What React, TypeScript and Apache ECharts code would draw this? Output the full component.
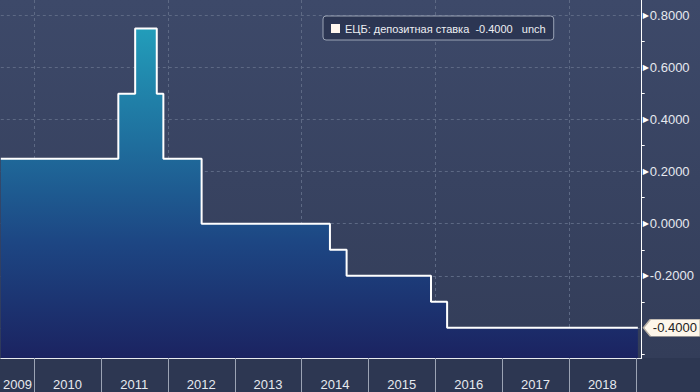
import React, { useEffect, useRef } from "react";
import * as echarts from "echarts";

const seriesName = "ЕЦБ: депозитная ставка";
const changeDates = [
  "2009-07-03", "2011-04-06", "2011-07-07", "2011-11-02", "2011-12-08",
  "2012-07-04", "2014-06-05", "2014-09-04", "2015-12-09", "2016-03-06", "2019-01-12",
];
const rates = [0.25, 0.5, 0.75, 0.5, 0.25, 0, -0.1, -0.2, -0.3, -0.4, -0.4];
const yearBoundaries = [2010, 2011, 2012, 2013, 2014, 2015, 2016, 2017, 2018, 2019];
const yearLabels = [2009, 2010, 2011, 2012, 2013, 2014, 2015, 2016, 2017, 2018];
const gridYears = [2010, 2012, 2014, 2016, 2018];
const yTicks = [-0.4, -0.2, 0, 0.2, 0.4, 0.6, 0.8];
const axisStart = "2009-07-03";
const axisEnd = "2019-02-02";
const yMin = -0.516;
const yMax = 0.86;
const changeText = "unch";

const ts = (s: string) => {
  const [y, m, d] = s.split("-").map(Number);
  return Date.UTC(y, m - 1, d);
};

export default function App() {
  const ref = useRef<HTMLDivElement>(null);
  useEffect(() => {
    if (!ref.current) return;
    const chart = echarts.init(ref.current, null, { renderer: "svg" });
    const xMin = ts(axisStart);
    const xMax = ts(axisEnd);
    const data = changeDates.map((d, i) => [ts(d), rates[i]]);
    const last = rates[rates.length - 1];
    const labelPositions = yearLabels.map((y) =>
      y === yearLabels[0] ? (xMin + Date.UTC(y + 1, 0, 1)) / 2 : Date.UTC(y, 6, 2)
    );
    const font = "Liberation Sans";
    chart.setOption({
      animation: false,
      backgroundColor: "transparent",
      textStyle: { fontFamily: font },
      grid: { left: 0, right: 58.3, top: 0, bottom: 34, containLabel: false },
      legend: {
        left: 323,
        top: 16,
        padding: [7, 8, 6, 8],
        backgroundColor: "#2c3653",
        borderColor: "#9aa3b5",
        borderWidth: 1,
        borderRadius: 3,
        icon: "rect",
        itemWidth: 9,
        itemHeight: 9,
        itemStyle: { color: "#fff6ee" },
        textStyle: { color: "#eceef2", fontSize: 11, fontFamily: font },
        formatter: (name: string) => `${name}  ${last.toFixed(4)}   ${changeText}`,
        data: [seriesName],
      },
      xAxis: [
        {
          type: "value",
          min: xMin,
          max: xMax,
          position: "bottom",
          axisLine: { show: true, onZero: false, lineStyle: { color: "#e8eaee", width: 1 } },
          axisTick: {
            show: true,
            customValues: yearBoundaries.map((y) => Date.UTC(y, 0, 1)),
            length: 34,
            lineStyle: { color: "#9ba3b4", width: 1 },
          },
          axisLabel: {
            show: true,
            customValues: labelPositions,
            formatter: (v: number) => String(new Date(v).getUTCFullYear()),
            color: "#e6e9ef",
            fontSize: 13,
            fontFamily: font,
            margin: 20,
            hideOverlap: false,
          },
          splitLine: { show: false },
        },
        {
          type: "value",
          min: xMin,
          max: xMax,
          position: "bottom",
          axisLine: { show: false, onZero: false },
          axisLabel: { show: false },
          axisTick: {
            show: false,
            customValues: gridYears.map((y) => Date.UTC(y, 0, 1)),
          },
          splitLine: {
            show: true,
            lineStyle: { color: "#5d6984", type: [3, 3], width: 1 },
          },
        },
      ],
      yAxis: {
        type: "value",
        position: "right",
        min: yMin,
        max: yMax,
        splitNumber: 7,
        axisLine: { show: true, lineStyle: { color: "#ffffff", width: 1 } },
        axisTick: { show: false, customValues: yTicks },
        minorTick: { show: true, splitNumber: 2, length: 3, lineStyle: { color: "#ffffff" } },
        axisLabel: {
          customValues: yTicks,
          margin: 1,
          formatter: (v: number) =>
            Math.abs(v - last) < 1e-9 ? "" : `{t|▶}{v|${v.toFixed(4)}}`,
          rich: {
            t: { fontSize: 8, color: "#ffffff", padding: [0, 1, 0, 0], fontFamily: "DejaVu Sans" },
            v: { fontSize: 13, color: "#e6e9ef", fontFamily: font },
          },
        },
        splitLine: {
          show: true,
          lineStyle: { color: "#5d6984", type: [3, 3], width: 1 },
        },
      },
      series: [
        {
          name: seriesName,
          type: "line",
          step: "end",
          data,
          symbol: "none",
          clip: false,
          itemStyle: { color: "#ffffff" },
          lineStyle: { color: "#ffffff", width: 2 },
          areaStyle: {
            origin: "start",
            opacity: 1,
            color: new echarts.graphic.LinearGradient(0, 0, 0, 1, [
              { offset: 0, color: "#229dba" },
              { offset: 0.35, color: "#1f6e9d" },
              { offset: 0.65, color: "#1d4683" },
              { offset: 1, color: "#1b2361" },
            ]),
          },
          markPoint: {
            silent: true,
            symbol: "path://M0,8.5 L7,0 L57,0 L57,17 L7,17 Z",
            symbolSize: [57, 17],
            symbolKeepAspect: false,
            symbolOffset: [34, 0],
            itemStyle: { color: "#fdf6ea", borderColor: "#b8b0a4", borderWidth: 1 },
            label: {
              show: true,
              position: "inside",
              offset: [3, 0],
              color: "#222222",
              fontSize: 13,
              fontFamily: font,
              formatter: () => last.toFixed(4),
            },
            data: [{ coord: data[data.length - 1] }],
          },
        },
      ],
    });
    return () => chart.dispose();
  }, []);
  return (
    <div
      style={{
        position: "fixed",
        left: 0,
        top: 0,
        width: 700,
        height: 392,
        background:
          "linear-gradient(to bottom, #3d4969 0px, #333d59 358px, #2d3752 358px, #2d3752 392px)",
      }}
    >
      <div ref={ref} style={{ width: 700, height: 392 }} />
    </div>
  );
}
